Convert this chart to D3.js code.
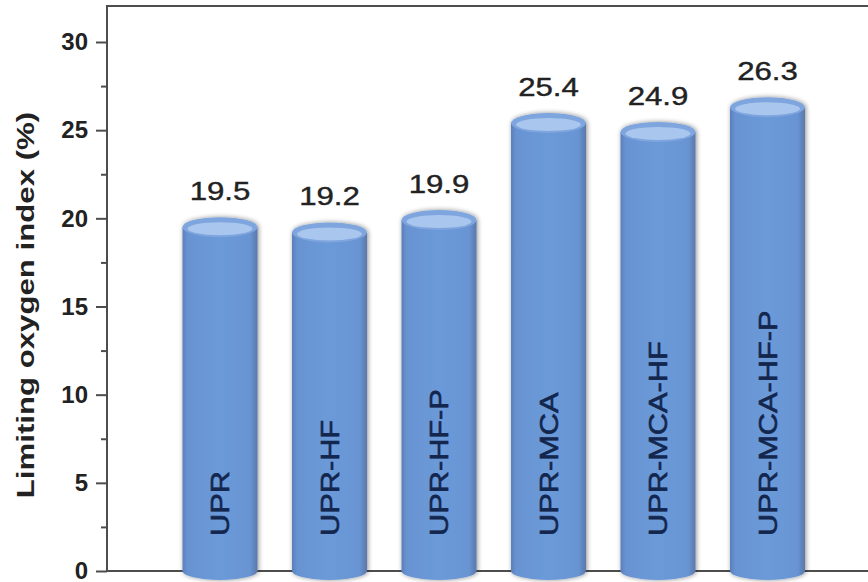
<!DOCTYPE html>
<html><head><meta charset="utf-8">
<script src="https://cdn.jsdelivr.net/npm/d3@7"></script>
<style>body{margin:0;background:#fff}svg{display:block}</style>
</head><body>
<svg id="chart" width="868" height="582"></svg>
<script>
// Limiting oxygen index of the resin formulations
const categories = ["UPR", "UPR-HF", "UPR-HF-P", "UPR-MCA", "UPR-MCA-HF", "UPR-MCA-HF-P"];
const loiValues = [19.5, 19.2, 19.9, 25.4, 24.9, 26.3];
const majorTicks = [0, 5, 10, 15, 20, 25, 30];
const minorTicks = [2.5, 7.5, 12.5, 17.5, 22.5, 27.5];
const yTitle = "Limiting oxygen index (%)";

const W = 868, H = 582;
const plotLeft = 107, plotTop = 6, plotBottom = 571;
const barW = 75;
const font = "'Liberation Sans', Arial, sans-serif";

const svg = d3.select("#chart");
const y = d3.scaleLinear().domain([0, 30]).range([plotBottom, 42]);
const x = d3.scalePoint().domain(categories).range([220, 767.5]);

// gradients and soft shadow for the cylinders
const defs = svg.append("defs");
const g1 = defs.append("linearGradient").attr("id", "body").attr("x1", 0).attr("x2", 1).attr("y1", 0).attr("y2", 0);
[["0%", "#5b7fba"], ["7%", "#6893d2"], ["50%", "#6c9ad9"], ["90%", "#6894d3"], ["100%", "#5a78aa"]]
  .forEach(([o, c]) => g1.append("stop").attr("offset", o).attr("stop-color", c));
const f = defs.append("filter").attr("id", "shadow").attr("x", "-20%").attr("y", "-5%").attr("width", "140%").attr("height", "110%");
f.append("feGaussianBlur").attr("in", "SourceAlpha").attr("stdDeviation", 2.5).attr("result", "b");
f.append("feOffset").attr("in", "b").attr("dx", 1).attr("dy", 0).attr("result", "o");
f.append("feComponentTransfer").attr("in", "o").attr("result", "s")
  .append("feFuncA").attr("type", "linear").attr("slope", 0.45);
const m = f.append("feMerge");
m.append("feMergeNode").attr("in", "s");
m.append("feMergeNode").attr("in", "SourceGraphic");

// frame
svg.append("line").attr("x1", plotLeft).attr("x2", W).attr("y1", plotTop).attr("y2", plotTop)
  .attr("stroke", "#4d4d4d").attr("stroke-width", 2);
svg.append("line").attr("x1", plotLeft).attr("x2", W).attr("y1", plotBottom).attr("y2", plotBottom)
  .attr("stroke", "#4d4d4d").attr("stroke-width", 2);

// y axis with major and minor ticks
const ax = svg.append("g").attr("transform", `translate(${plotLeft},0)`)
  .call(d3.axisLeft(y).tickValues(majorTicks).tickSize(11).tickPadding(8).tickFormat(d3.format("d")));
ax.select(".domain").remove();
ax.selectAll(".tick line").attr("stroke", "#4d4d4d").attr("stroke-width", 2);
ax.selectAll(".tick text").attr("font-family", font).attr("font-size", 24).attr("font-weight", "bold").attr("fill", "#222");
const axMinor = svg.append("g").attr("transform", `translate(${plotLeft},0)`)
  .call(d3.axisLeft(y).tickValues(minorTicks).tickSize(6).tickFormat(""));
axMinor.select(".domain").remove();
axMinor.selectAll(".tick line").attr("stroke", "#4d4d4d").attr("stroke-width", 2);
svg.append("line").attr("x1", plotLeft).attr("x2", plotLeft).attr("y1", plotTop - 1).attr("y2", plotBottom + 1)
  .attr("stroke", "#4d4d4d").attr("stroke-width", 2);

// y title
svg.append("text")
  .attr("transform", `translate(34,305) rotate(-90) scale(1.3,1)`)
  .attr("text-anchor", "middle").attr("font-family", font).attr("font-size", 24)
  .attr("font-weight", "bold").attr("fill", "#222").text(yTitle);

// cylinders
const data = categories.map((c, i) => ({ c, v: loiValues[i] }));
const bars = svg.append("g").selectAll("g").data(data).join("g");
const cyl = bars.append("g").attr("filter", "url(#shadow)");
cyl.append("ellipse").attr("cx", d => x(d.c)).attr("cy", y(0)).attr("rx", barW / 2).attr("ry", 9)
  .attr("fill", "url(#body)");
cyl.append("rect").attr("x", d => x(d.c) - barW / 2).attr("width", barW)
  .attr("y", d => y(d.v)).attr("height", d => y(0) - y(d.v)).attr("fill", "url(#body)");
cyl.append("ellipse").attr("cx", d => x(d.c)).attr("cy", d => y(d.v)).attr("rx", barW / 2).attr("ry", 10)
  .attr("fill", "#7ea5dd");
bars.append("ellipse").attr("cx", d => x(d.c)).attr("cy", d => y(d.v) + 1.5).attr("rx", barW / 2 - 5).attr("ry", 6.5)
  .attr("fill", "#a9c6ee");

// value labels above each cylinder
bars.append("text")
  .attr("transform", d => `translate(${x(d.c)},${y(d.v) - 27}) scale(1.2,1)`)
  .attr("text-anchor", "middle").attr("font-family", font).attr("font-size", 26).attr("fill", "#222")
  .attr("stroke", "#222").attr("stroke-width", 0.4)
  .text(d => d.v.toFixed(1));

// category names written up the cylinders
bars.append("text")
  .attr("transform", d => `translate(${x(d.c) + 9},${y(0) - 35}) rotate(-90) scale(1.23,1)`)
  .attr("text-anchor", "start").attr("font-family", font).attr("font-size", 25).attr("fill", "#13264d")
  .attr("stroke", "#13264d").attr("stroke-width", 0.6)
  .text(d => d.c);
</script>
</body></html>
